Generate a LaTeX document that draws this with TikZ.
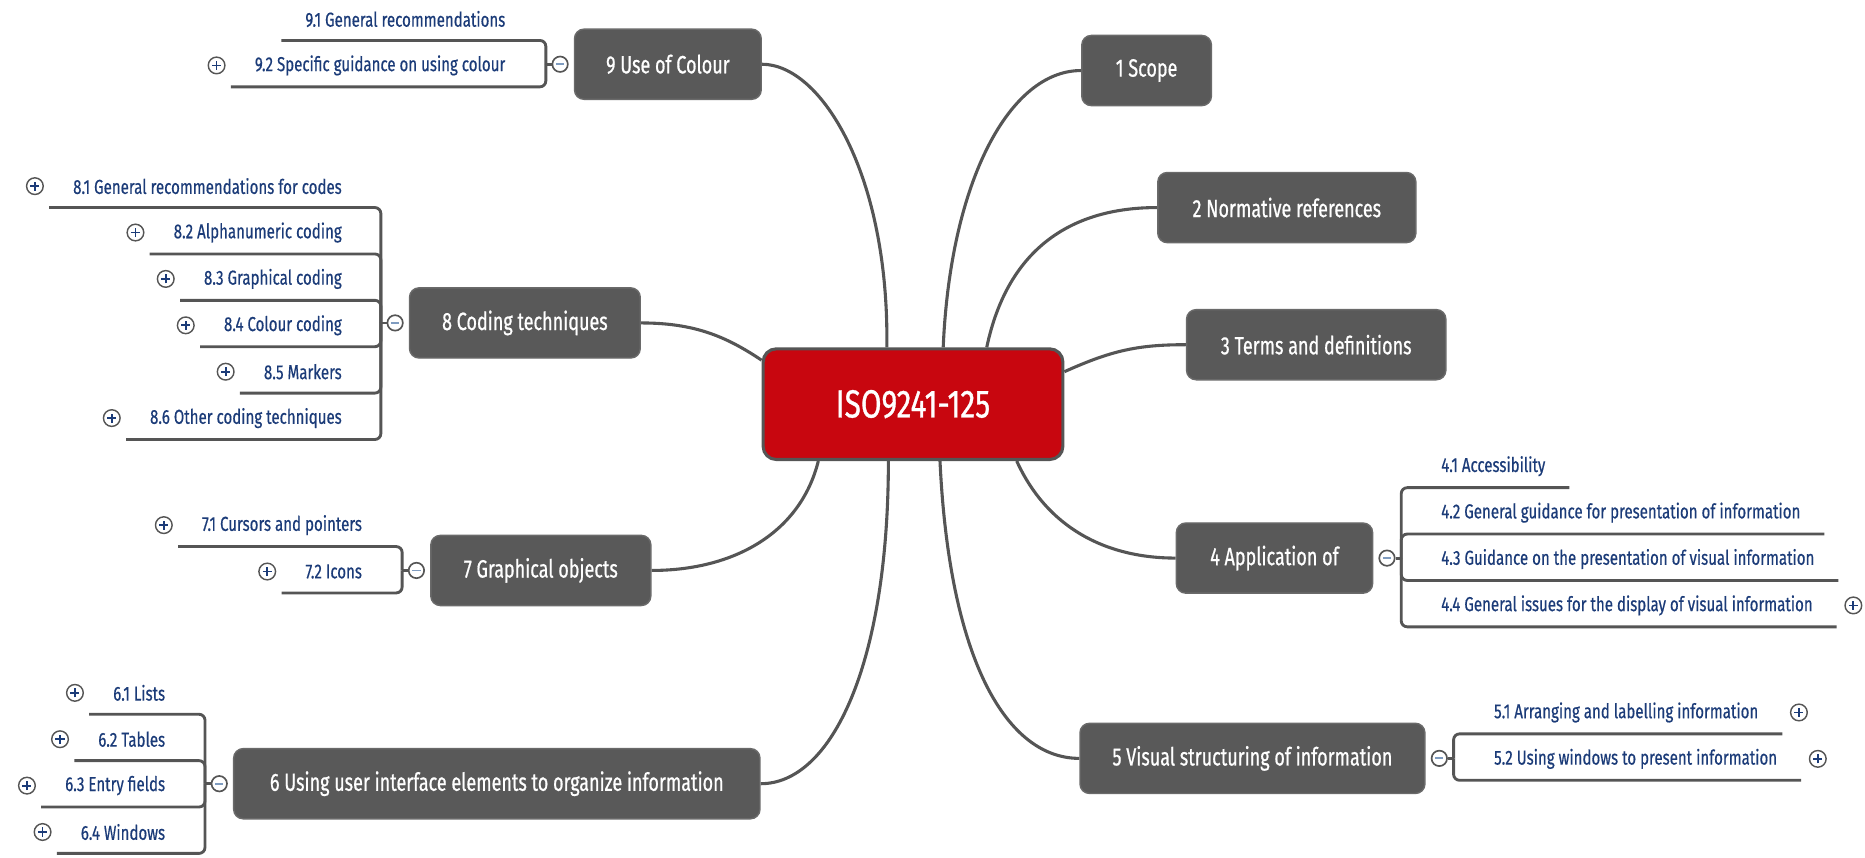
\documentclass[tikz,border=0pt]{standalone}
\usepackage{fontspec}
\setmainfont{Fira Sans}
\newfontfamily\subfont{Fira Sans}[FakeStretch=0.745,FakeBold=0.5]
\newfontfamily\topfont{Fira Sans}[FakeStretch=0.72,FakeBold=0.7]
\newfontfamily\rootfont{Fira Sans}[FakeStretch=0.76,FakeBold=0.8]
\usetikzlibrary{calc,backgrounds}
\definecolor{boxgray}{HTML}{595959}
\definecolor{boxedge}{HTML}{6A6A6A}
\definecolor{linegray}{HTML}{555555}
\definecolor{rootred}{HTML}{C8060F}
\definecolor{navy}{HTML}{1B3B78}
\definecolor{minusblue}{HTML}{7F9CC0}
\begin{document}
\begin{tikzpicture}[x=1pt,y=-1pt,
 topic/.style={rectangle, rounded corners=8pt, fill=boxgray, draw=boxedge, line width=1.2pt, text=white, font=\topfont\fontsize{21}{24}\selectfont, inner sep=0pt, minimum height=59pt},
 root/.style={rectangle, rounded corners=11pt, fill=rootred, draw=linegray, line width=2.6pt, text=white, font=\rootfont\fontsize{33}{36}\selectfont, inner sep=0pt, minimum width=252pt, minimum height=93pt},
 sub/.style={inner sep=0pt, text=navy, font=\subfont\fontsize{17}{20}\selectfont},
 conn/.style={draw=linegray, line width=2.6pt},
 brk/.style={draw=linegray, line width=2.4pt, rounded corners=5pt},
 plusc/.style={circle, draw=linegray, line width=1.2pt, fill=white, minimum size=14pt, inner sep=0pt,
   path picture={\draw[navy, line width=1.5pt] ([xshift=-3.8pt]path picture bounding box.center) -- ([xshift=3.8pt]path picture bounding box.center);
                 \draw[navy, line width=1.5pt] ([yshift=-3.8pt]path picture bounding box.center) -- ([yshift=3.8pt]path picture bounding box.center);}},
 minusc/.style={circle, draw=linegray, line width=1.4pt, fill=white, minimum size=13pt, inner sep=0pt,
   path picture={\draw[minusblue, line width=1.5pt] ([xshift=-3.5pt]path picture bounding box.center) -- ([xshift=3.5pt]path picture bounding box.center);}},
]
\useasboundingbox (0,0) rectangle (1568,721);

% root and topics
\node[root] (root) at (767.6,339.8) {ISO9241-125};
\node[topic, minimum width=109pt] (t1) at (964,59.3) {1 Scope};
\node[topic, minimum width=217pt] (t2) at (1081.9,174.5) {2 Normative references};
\node[topic, minimum width=218pt] (t3) at (1106.6,289.8) {3 Terms and definitions};
\node[topic, minimum width=165pt] (t4) at (1071.5,469.2) {4 Application of};
\node[topic, minimum width=290pt] (t5) at (1053,637.6) {5 Visual structuring of information};
\node[topic, minimum width=442.5pt] (t6) at (417.7,658.9) {6 Using user interface elements to organize information};
\node[topic, minimum width=185pt] (t7) at (454.7,479.6) {7 Graphical objects};
\node[topic, minimum width=194pt] (t8) at (441.3,271.5) {8 Coding techniques};
\node[topic, minimum width=157pt] (t9) at (561.5,54) {9 Use of Colour};

\begin{scope}[on background layer]
\draw[conn] ($(root.north)+(-22,0)$) .. controls +(2,-145) and +(50,0) .. (t9.east);
\draw[conn] ($(root.north)+(25.4,0)$) .. controls +(6,-140) and +(-60,0) .. (t1.west);
\draw[conn] ($(root.north)+(62,0)$) .. controls +(18,-85) and +(-70,0) .. (t2.west);
\draw[conn] ($(root.east)+(0,-27.3)$) .. controls +(40,-18) and +(-40,0) .. (t3.west);
\draw[conn] ($(root.west)+(0,-37)$) .. controls +(-30,-20) and +(45,0) .. (t8.east);
\draw[conn] ($(root.south)+(-79.6,0)$) .. controls +(-15,60) and +(70,0) .. (t7.east);
\draw[conn] ($(root.south)+(-20.7,0)$) .. controls +(0,170) and +(60,0) .. (t6.east);
\draw[conn] ($(root.south)+(22.7,0)$) .. controls +(8,170) and +(-60,0) .. (t5.west);
\draw[conn] ($(root.south)+(87.2,0)$) .. controls +(25,55) and +(-60,0) .. (t4.west);
\end{scope}

% group 9
\node[minusc] (m9) at ($(t9.west)+(-11.5,0)$) {};
\coordinate (b9) at ($(m9)+(-12,0)$);
\node[sub, anchor=east] (s91) at (425,16) {9.1 General recommendations};
\node[sub, anchor=east] (s92) at (425,55) {9.2 Specific guidance on using colour};
\node[plusc] (p92) at ($(s92.west)+(-32,0)$) {};
\draw[brk] ($(s91.west)+(-20,18)$) -| (b9);
\draw[brk] ($(s92.west)+(-20,18)$) -| (b9);
\draw[brk] (b9) -- (m9.west);

% group 8
\node[minusc] (m8) at ($(t8.west)+(-11.5,0)$) {};
\coordinate (b8) at ($(m8)+(-12,0)$);
\node[sub, anchor=east] (s81) at (287.5,156.5) {8.1 General recommendations for codes};
\node[sub, anchor=east] (s82) at (287.5,195.5) {8.2 Alphanumeric coding};
\node[sub, anchor=east] (s83) at (287.5,234.5) {8.3 Graphical coding};
\node[sub, anchor=east] (s84) at (287.5,273.5) {8.4 Colour coding};
\node[sub, anchor=east] (s85) at (287.5,312.5) {8.5 Markers};
\node[sub, anchor=east] (s86) at (287.5,351.5) {8.6 Other coding techniques};
\foreach \s in {81,82,83,84,85,86}{
  \node[plusc] (p\s) at ($(s\s.west)+(-32,0)$) {};
  \draw[brk] ($(s\s.west)+(-20,18)$) -| (b8);
}
\draw[brk] (b8) -- (m8.west);

% group 7
\node[minusc] (m7) at ($(t7.west)+(-11.5,0)$) {};
\coordinate (b7) at ($(m7)+(-12,0)$);
\node[sub, anchor=east] (s71) at (304.5,441.5) {7.1 Cursors and pointers};
\node[sub, anchor=east] (s72) at (304.5,480.5) {7.2 Icons};
\foreach \s in {71,72}{
  \node[plusc] (p\s) at ($(s\s.west)+(-32,0)$) {};
  \draw[brk] ($(s\s.west)+(-20,18)$) -| (b7);
}
\draw[brk] (b7) -- (m7.west);

% group 6
\node[minusc] (m6) at ($(t6.west)+(-11.5,0)$) {};
\coordinate (b6) at ($(m6)+(-12,0)$);
\node[sub, anchor=east] (s61) at (139,582.5) {6.1 Lists};
\node[sub, anchor=east] (s62) at (139,621.5) {6.2 Tables};
\node[sub, anchor=east] (s63) at (139,660.5) {6.3 Entry fields};
\node[sub, anchor=east] (s64) at (139,699.5) {6.4 Windows};
\foreach \s in {61,62,63,64}{
  \node[plusc] (p\s) at ($(s\s.west)+(-32,0)$) {};
  \draw[brk] ($(s\s.west)+(-20,18)$) -| (b6);
}
\draw[brk] (b6) -- (m6.west);

% group 4
\node[minusc] (m4) at ($(t4.east)+(11.5,0)$) {};
\coordinate (b4) at ($(m4)+(12,0)$);
\node[sub, anchor=west] (s41) at (1211.5,392) {4.1 Accessibility};
\node[sub, anchor=west] (s42) at (1211.5,431) {4.2 General guidance for presentation of information};
\node[sub, anchor=west] (s43) at (1211.5,470) {4.3 Guidance on the presentation of visual information};
\node[sub, anchor=west] (s44) at (1211.5,509) {4.4 General issues for the display of visual information};
\node[plusc] (p44) at ($(s44.east)+(34,0)$) {};
\foreach \s in {41,42,43,44}{
  \draw[brk] ($(s\s.east)+(20,18)$) -| (b4);
}
\draw[brk] (b4) -- (m4.east);

% group 5
\node[minusc] (m5) at ($(t5.east)+(11.5,0)$) {};
\coordinate (b5) at ($(m5)+(12,0)$);
\node[sub, anchor=west] (s51) at (1256,599) {5.1 Arranging and labelling information};
\node[sub, anchor=west] (s52) at (1256,638) {5.2 Using windows to present information};
\foreach \s in {51,52}{
  \node[plusc] (p\s) at ($(s\s.east)+(34,0)$) {};
  \draw[brk] ($(s\s.east)+(20,18)$) -| (b5);
}
\draw[brk] (b5) -- (m5.east);
\end{tikzpicture}
\end{document}
